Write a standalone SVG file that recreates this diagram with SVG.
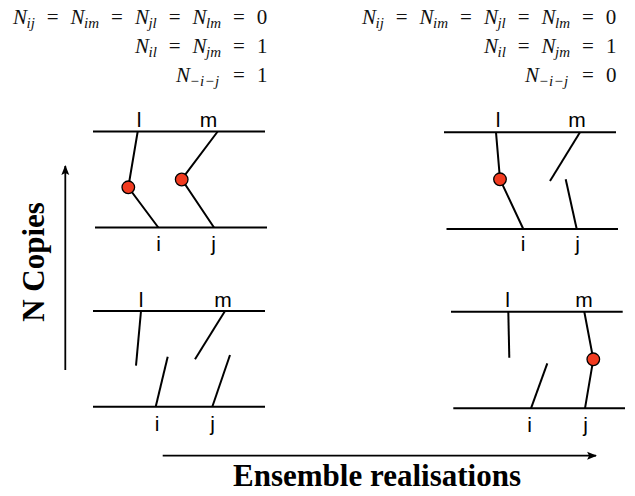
<svg xmlns="http://www.w3.org/2000/svg" width="635" height="496" viewBox="0 0 635 496">
<defs>
<style>
.eq{font-family:"Liberation Serif","DejaVu Serif",serif;font-size:21px;fill:#111}
.it{font-style:italic}
.sb{font-style:italic;font-size:15px}
.ln{stroke:#000;stroke-width:2;fill:none;stroke-linecap:butt}
.dot{fill:#f23b20;stroke:#000;stroke-width:1.3}
.lb{font-family:"Liberation Sans","Helvetica",Arial,sans-serif;font-size:21px;fill:#000;text-anchor:middle}
.big{font-family:"Liberation Serif","Times New Roman",serif;font-weight:bold;font-size:31px;fill:#000;text-anchor:middle}
</style>
<marker id="ah" viewBox="0 0 10 10" refX="9" refY="5" markerWidth="5.5" markerHeight="5.5" orient="auto" markerUnits="strokeWidth">
<path d="M0,1 L10,5 L0,9 L2,5 Z" fill="#000"/>
</marker>
</defs>
<rect width="635" height="496" fill="#fff"/>

<g id="equations-left">
<text class="eq" y="23.5"><tspan class="it" x="13">N</tspan><tspan class="sb" x="26.5" y="27.5">ij</tspan><tspan x="46.8" y="23.5">=</tspan><tspan class="it" x="70.6">N</tspan><tspan class="sb" x="84.1" y="27.5">im</tspan><tspan x="111.1" y="23.5">=</tspan><tspan class="it" x="134.9">N</tspan><tspan class="sb" x="148.4" y="27.5">jl</tspan><tspan x="168.7" y="23.5">=</tspan><tspan class="it" x="192.5">N</tspan><tspan class="sb" x="206" y="27.5">lm</tspan><tspan x="233" y="23.5">=</tspan><tspan x="256.8">0</tspan></text>
<text class="eq" y="52.5"><tspan class="it" x="135">N</tspan><tspan class="sb" x="148.5" y="56.5">il</tspan><tspan x="168.8" y="52.5">=</tspan><tspan class="it" x="192.6">N</tspan><tspan class="sb" x="206.1" y="56.5">jm</tspan><tspan x="233.1" y="52.5">=</tspan><tspan x="256.9">1</tspan></text>
<text class="eq" y="81.5"><tspan class="it" x="176">N</tspan><tspan class="sb" x="189.5" y="85.5">−</tspan><tspan class="sb" x="200">i</tspan><tspan class="sb" x="204.5">−</tspan><tspan class="sb" x="215">j</tspan><tspan x="233.1" y="81.5">=</tspan><tspan x="256.9">1</tspan></text>
</g>

<g id="equations-right">
<text class="eq" y="23.5"><tspan class="it" x="362">N</tspan><tspan class="sb" x="375.5" y="27.5">ij</tspan><tspan x="395.8" y="23.5">=</tspan><tspan class="it" x="419.6">N</tspan><tspan class="sb" x="433.1" y="27.5">im</tspan><tspan x="460.1" y="23.5">=</tspan><tspan class="it" x="483.9">N</tspan><tspan class="sb" x="497.4" y="27.5">jl</tspan><tspan x="517.7" y="23.5">=</tspan><tspan class="it" x="541.5">N</tspan><tspan class="sb" x="555" y="27.5">lm</tspan><tspan x="582" y="23.5">=</tspan><tspan x="605.8">0</tspan></text>
<text class="eq" y="52.5"><tspan class="it" x="484">N</tspan><tspan class="sb" x="497.5" y="56.5">il</tspan><tspan x="517.8" y="52.5">=</tspan><tspan class="it" x="541.6">N</tspan><tspan class="sb" x="555.1" y="56.5">jm</tspan><tspan x="582.1" y="52.5">=</tspan><tspan x="605.9">1</tspan></text>
<text class="eq" y="81.5"><tspan class="it" x="525">N</tspan><tspan class="sb" x="538.5" y="85.5">−</tspan><tspan class="sb" x="549">i</tspan><tspan class="sb" x="553.5">−</tspan><tspan class="sb" x="564">j</tspan><tspan x="582.1" y="81.5">=</tspan><tspan x="605.9">0</tspan></text>
</g>

<g id="panel-top-left">
<line class="ln" x1="93" y1="131.5" x2="265" y2="131.5"/>
<line class="ln" x1="95" y1="227.5" x2="267" y2="227.5"/>
<polyline class="ln" points="137.7,131.5 128.3,187.3 158.3,227.5"/>
<polyline class="ln" points="217.7,131.5 181.7,179.3 214,227.5"/>
<circle class="dot" cx="128.3" cy="187.3" r="6.3"/>
<circle class="dot" cx="181.7" cy="179.5" r="6.3"/>
<text class="lb" x="139" y="127">l</text>
<text class="lb" x="208.5" y="127">m</text>
<text class="lb" x="158.5" y="250.5">i</text>
<text class="lb" x="213.5" y="250.5">j</text>
</g>

<g id="panel-top-right">
<line class="ln" x1="444" y1="132.3" x2="616" y2="132.3"/>
<line class="ln" x1="446.5" y1="229" x2="618" y2="229"/>
<polyline class="ln" points="496,132.3 500,179.3 523.3,229"/>
<line class="ln" x1="580" y1="132.3" x2="550" y2="181"/>
<line class="ln" x1="565.7" y1="179.3" x2="576.7" y2="229"/>
<circle class="dot" cx="500" cy="179.3" r="6.3"/>
<text class="lb" x="498" y="127">l</text>
<text class="lb" x="577" y="127">m</text>
<text class="lb" x="523" y="250.5">i</text>
<text class="lb" x="577.5" y="250.5">j</text>
</g>

<g id="panel-bottom-left">
<line class="ln" x1="93" y1="311" x2="265" y2="311"/>
<line class="ln" x1="93" y1="406.7" x2="265" y2="406.7"/>
<line class="ln" x1="141" y1="311" x2="136" y2="365.7"/>
<line class="ln" x1="225" y1="311" x2="195" y2="359.3"/>
<line class="ln" x1="155.7" y1="406.7" x2="167.7" y2="356.7"/>
<line class="ln" x1="212.3" y1="406.7" x2="230" y2="355"/>
<text class="lb" x="141" y="306.5">l</text>
<text class="lb" x="223" y="306.5">m</text>
<text class="lb" x="157" y="430.5">i</text>
<text class="lb" x="212.5" y="430.5">j</text>
</g>

<g id="panel-bottom-right">
<line class="ln" x1="451" y1="311.7" x2="622.7" y2="311.7"/>
<line class="ln" x1="453.3" y1="408.3" x2="625" y2="408.3"/>
<line class="ln" x1="508.3" y1="311.7" x2="509.3" y2="357.7"/>
<line class="ln" x1="531" y1="408.3" x2="547.3" y2="363.3"/>
<polyline class="ln" points="584.3,311.7 593.3,359.3 585,408.3"/>
<circle class="dot" cx="593.3" cy="359.3" r="6.3"/>
<text class="lb" x="507.5" y="306.5">l</text>
<text class="lb" x="584" y="306.5">m</text>
<text class="lb" x="529.5" y="431.5">i</text>
<text class="lb" x="585.5" y="431.5">j</text>
</g>

<g id="axes">
<line x1="65.3" y1="370" x2="65.3" y2="166" stroke="#000" stroke-width="1.8" marker-end="url(#ah)"/>
<line x1="162.7" y1="455.7" x2="596" y2="455.7" stroke="#000" stroke-width="1.8" marker-end="url(#ah)"/>
<text class="big" transform="translate(44,262) rotate(-90)">N Copies</text>
<text class="big" x="377" y="486">Ensemble realisations</text>
</g>
</svg>
